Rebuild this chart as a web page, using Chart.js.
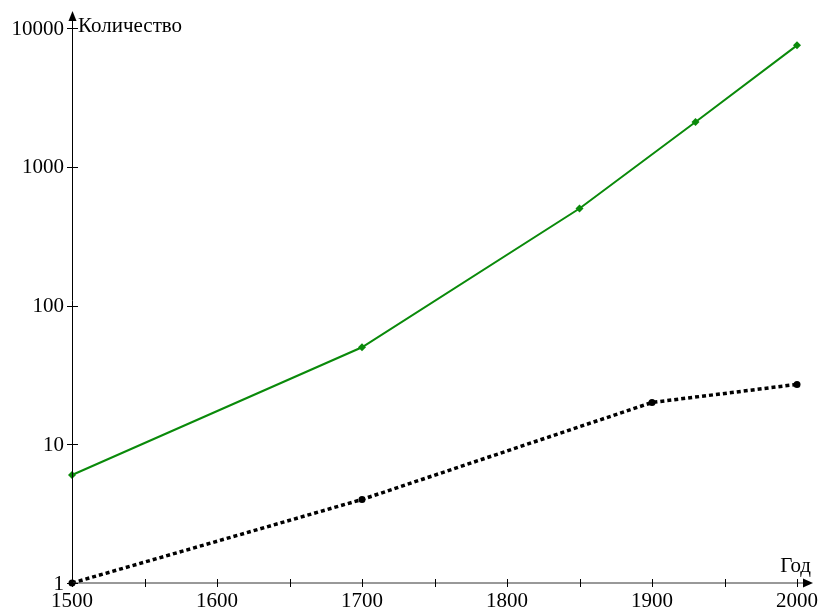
<!DOCTYPE html>
<html>
<head>
<meta charset="utf-8">
<script src="https://cdn.jsdelivr.net/npm/chart.js@4/dist/chart.umd.min.js"></script>
<style>
  html, body { margin: 0; padding: 0; background: #fff; }
  canvas { display: block; }
</style>
</head>
<body>
<canvas id="c" width="821" height="611"></canvas>
<script>
// Years of the observations
const greenYears = [1500, 1700, 1850, 1930, 2000];
const greenValues = [6, 50, 500, 2100, 7500];
const blackYears = [1500, 1700, 1900, 2000];
const blackValues = [1, 4, 20, 27];

// Axis ticks
const xMajorTicks = [1500, 1600, 1700, 1800, 1900, 2000];
const xMinorTicks = [1550, 1650, 1750, 1850, 1950];
const yTicks = [1, 10, 100, 1000, 10000];
const yTitle = 'Количество';
const xTitle = 'Год';

const FONT = '21px "Liberation Serif", "Times New Roman", serif';

function toPoints(xs, ys) {
  return xs.map((x, i) => ({ x: x, y: ys[i] }));
}

// Draws arrow axes through the origin with crossing tick marks and labels
const arrowAxes = {
  id: 'arrowAxes',
  afterDatasetsDraw(chart) {
    const ctx = chart.ctx;
    const xs = chart.scales.x;
    const ys = chart.scales.y;
    const ox = Math.round(xs.getPixelForValue(1500));
    const oy = Math.round(ys.getPixelForValue(1));
    const yTop = ys.getPixelForValue(10000);
    const xRight = xs.getPixelForValue(2000);

    ctx.save();
    ctx.strokeStyle = '#000';
    ctx.fillStyle = '#000';
    ctx.lineWidth = 1;

    // y axis
    ctx.beginPath();
    ctx.moveTo(ox + 0.5, oy);
    ctx.lineTo(ox + 0.5, yTop - 10);
    ctx.stroke();
    ctx.beginPath();
    ctx.moveTo(ox + 0.5, yTop - 17);
    ctx.lineTo(ox - 3.5, yTop - 7);
    ctx.lineTo(ox + 4.5, yTop - 7);
    ctx.closePath();
    ctx.fill();

    // x axis
    ctx.strokeStyle = '#333';
    ctx.beginPath();
    ctx.moveTo(ox, oy);
    ctx.lineTo(xRight + 8, oy);
    ctx.stroke();
    ctx.beginPath();
    ctx.moveTo(xRight + 16, oy);
    ctx.lineTo(xRight + 6, oy - 4.5);
    ctx.lineTo(xRight + 6, oy + 4.5);
    ctx.closePath();
    ctx.fill();
    ctx.strokeStyle = '#000';

    // x ticks
    ctx.beginPath();
    xMajorTicks.concat(xMinorTicks).forEach(v => {
      const px = Math.round(xs.getPixelForValue(v)) + 0.5;
      ctx.moveTo(px, oy - 4);
      ctx.lineTo(px, oy + 4);
    });
    // y ticks
    yTicks.forEach(v => {
      const py = Math.round(ys.getPixelForValue(v)) + 0.5;
      ctx.moveTo(ox - 5, py);
      ctx.lineTo(ox + 6, py);
    });
    ctx.stroke();

    ctx.font = FONT;
    // x tick labels
    ctx.textAlign = 'center';
    ctx.textBaseline = 'alphabetic';
    xMajorTicks.forEach(v => {
      ctx.fillText(String(v), xs.getPixelForValue(v), oy + 24);
    });
    // y tick labels
    ctx.textAlign = 'right';
    ctx.textBaseline = 'middle';
    yTicks.forEach(v => {
      ctx.fillText(String(v), ox - 8, ys.getPixelForValue(v) + 1);
    });

    // axis titles
    ctx.textBaseline = 'alphabetic';
    ctx.textAlign = 'left';
    ctx.fillText(yTitle, ox + 6, 32);
    ctx.textAlign = 'right';
    ctx.fillText(xTitle, xRight + 14, oy - 11);
    ctx.restore();
  }
};

new Chart(document.getElementById('c'), {
  type: 'line',
  data: {
    datasets: [
      {
        data: toPoints(greenYears, greenValues),
        borderColor: '#0a8a0a',
        backgroundColor: '#0a8a0a',
        borderWidth: 2,
        pointStyle: 'rectRot',
        pointRadius: 4,
        pointBorderWidth: 0,
        tension: 0,
        clip: false
      },
      {
        data: toPoints(blackYears, blackValues),
        borderColor: '#000',
        backgroundColor: '#000',
        borderWidth: 3.5,
        borderDash: [4, 3],
        borderCapStyle: 'butt',
        pointStyle: 'circle',
        pointRadius: 3.5,
        pointBorderWidth: 0,
        tension: 0,
        clip: false
      }
    ]
  },
  options: {
    responsive: false,
    animation: false,
    layout: { padding: { left: 72, right: 24, top: 28, bottom: 28 } },
    plugins: { legend: { display: false }, tooltip: { enabled: false } },
    scales: {
      x: { type: 'linear', min: 1500, max: 2000, display: false },
      y: { type: 'logarithmic', min: 1, max: 10000, display: false }
    }
  },
  plugins: [arrowAxes]
});
</script>
</body>
</html>
